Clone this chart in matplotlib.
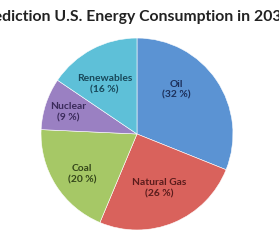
import matplotlib.pyplot as plt
import numpy as np

sources = ["Oil", "Natural Gas", "Coal", "Nuclear", "Renewables"]
shares = [32, 26, 20, 9, 16]
colors = ["#5b93d3", "#d9625c", "#a6c866", "#9a80c2", "#5ec0d8"]
text_colors = ["#1c2f5a", "#5a1c1c", "#34461a", "#3a2a5a", "#18485a"]
# label placement: fraction of radius, angle nudge (deg)
label_r = [0.62, 0.61, 0.71, 0.75, 0.62]
label_nudge = [14, 0, 4, 1, 5]

fig = plt.figure(figsize=(2.79, 2.5), dpi=100)
fig.patch.set_facecolor("white")
ax = fig.add_axes([0.147, 0.08, 0.688, 0.768])

wedges, _ = ax.pie(shares, colors=colors, startangle=90, counterclock=False,
                   wedgeprops=dict(linewidth=0.4, edgecolor="white"))
ax.set_xlim(-1, 1)
ax.set_ylim(-1, 1)
ax.set_aspect("equal")
ax.axis("off")

for w, name, val, r, nudge, tc in zip(wedges, sources, shares, label_r,
                                      label_nudge, text_colors):
    ang = np.deg2rad((w.theta1 + w.theta2) / 2 + nudge)
    ax.text(r * np.cos(ang), r * np.sin(ang), f"{name}\n({val} %)",
            ha="center", va="center", fontsize=7.4, fontweight="bold",
            family="Lato", color=tc, linespacing=1.3)

fig.text(0.482, 0.93, "Prediction U.S. Energy Consumption in 2030",
         ha="center", va="center", fontsize=11.3, fontweight="bold",
         family="Lato", color="#222222")

fig.savefig("out.png", dpi=100)
